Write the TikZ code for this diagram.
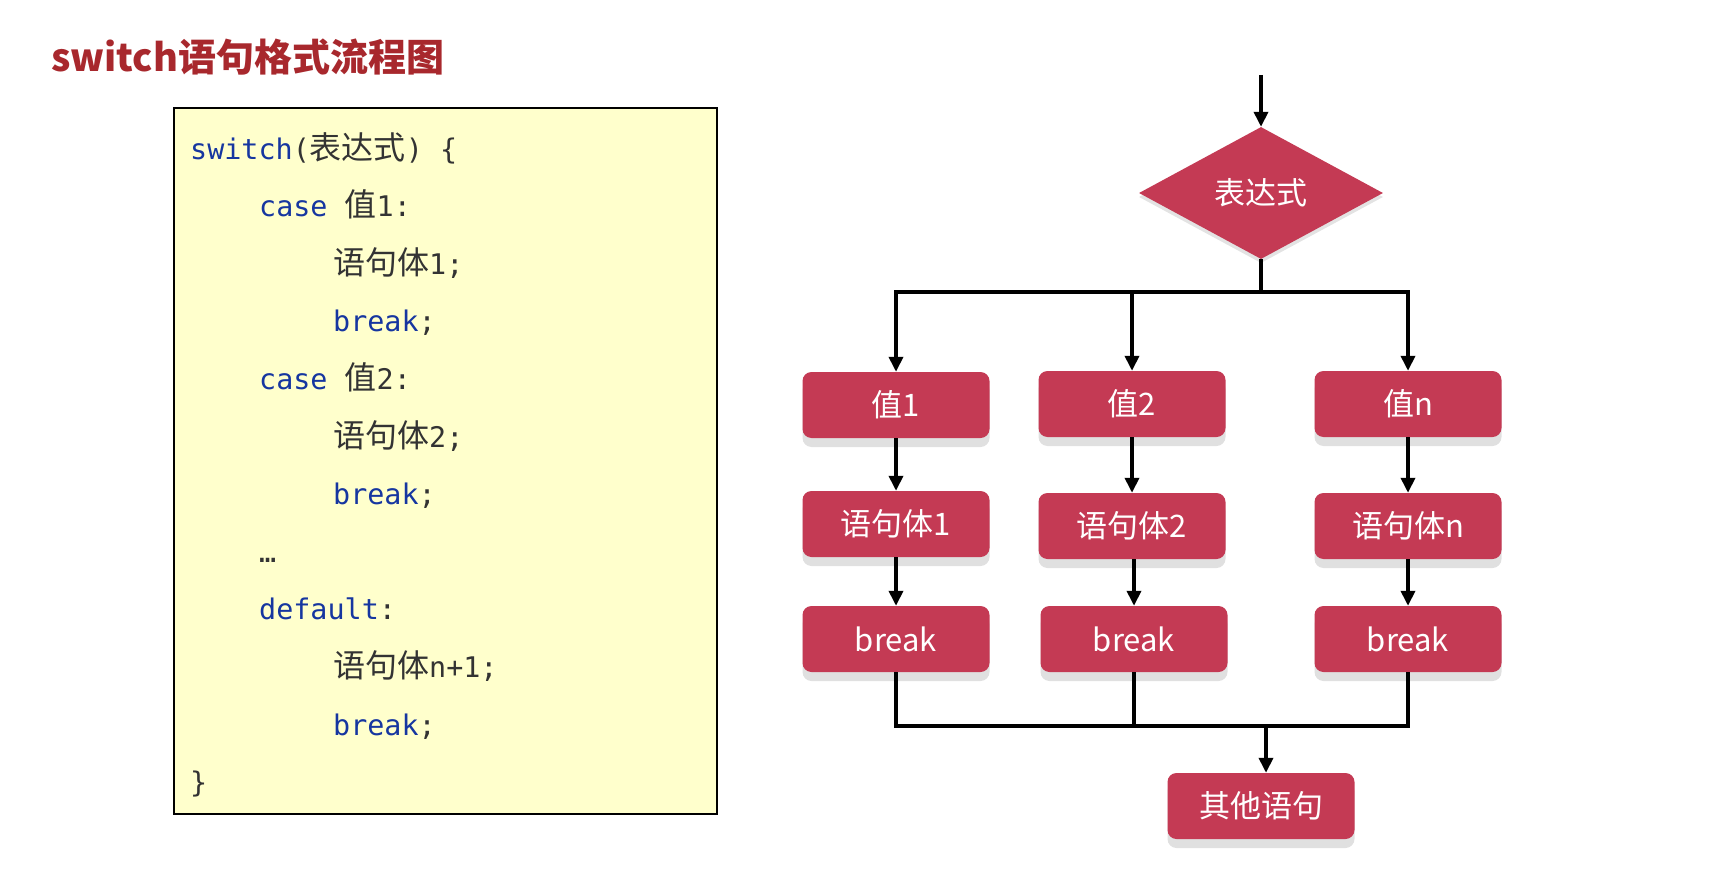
\documentclass[tikz,border=0pt]{standalone}
\usepackage{fontspec}
\setmainfont{Noto Sans CJK SC}
\newfontfamily\cjk{Noto Sans CJK SC}
\newfontfamily\codefont{DejaVu Sans Mono}
\usetikzlibrary{shapes.geometric,shadows,arrows.meta}

\definecolor{boxred}{RGB}{196,58,84}
\definecolor{titlered}{RGB}{168,40,45}
\definecolor{kwblue}{RGB}{22,54,160}
\definecolor{codegray}{RGB}{51,51,51}
\definecolor{codebg}{RGB}{255,255,204}

\newcommand{\kw}[1]{{\color{kwblue}#1}}
\newcommand{\zh}[1]{{\fontsize{32}{34}\cjk #1}}

\tikzset{
    codeline/.style={anchor=base west, inner sep=0pt, text=codegray,
        font=\fontsize{28.4}{34}\codefont},
    flowbox/.style={rectangle, rounded corners=9pt, fill=boxred, text=white,
        minimum width=187pt, minimum height=66pt, inner sep=0pt,
        font=\fontsize{31}{31}\selectfont,
        drop shadow={shadow xshift=0pt, shadow yshift=-9pt, fill=black!12, opacity=1}},
    decision/.style={diamond, fill=boxred, text=white,
        minimum width=244pt, minimum height=132pt, inner sep=0pt,
        font=\fontsize{31}{31}\selectfont,
        drop shadow={shadow xshift=0pt, shadow yshift=-4pt, fill=black!18, opacity=0.6}},
    flowline/.style={line width=3.6pt, -{Triangle[length=15pt,width=14pt]}},
    joinline/.style={line width=3.6pt},
}

\begin{document}
\begin{tikzpicture}[x=1pt, y=-1pt]
    \useasboundingbox (0,0) rectangle (1729,872);

    %Title
    \node[anchor=west, inner sep=0pt, text=titlered, font=\fontsize{38}{38}\selectfont\bfseries] (title) at (51,57) {switch语句格式流程图};

    %Code
    \draw[line width=2.4pt, fill=codebg] (174,108) rectangle (717,814);
    \node[codeline] (l1) at (190,159) {\kw{switch}(\zh{表达式}) \{};
    \node[codeline] (l2) at (259,216.6) {\kw{case} \zh{值}1:};
    \node[codeline] (l3) at (333,274.2) {\zh{语句体}1;};
    \node[codeline] (l4) at (333,331.8) {\kw{break};};
    \node[codeline] (l5) at (259,389.4) {\kw{case} \zh{值}2:};
    \node[codeline] (l6) at (333,447) {\zh{语句体}2;};
    \node[codeline] (l7) at (333,504.6) {\kw{break};};
    \node[codeline] (l8) at (259,562.2) {…};
    \node[codeline] (l9) at (259,619.8) {\kw{default}:};
    \node[codeline] (l10) at (333,677.4) {\zh{语句体}n+1;};
    \node[codeline] (l11) at (333,735) {\kw{break};};
    \node[codeline] (l12) at (190,792.6) {\}};

    %Flow chart
    \node[decision] (expr) at (1261,193) {表达式};

    \node[flowbox] (v1) at (896,405) {值1};
    \node[flowbox] (v2) at (1132,404) {值2};
    \node[flowbox] (vn) at (1408,404) {值n};

    \node[flowbox] (s1) at (896,524) {语句体1};
    \node[flowbox] (s2) at (1132,526) {语句体2};
    \node[flowbox] (sn) at (1408,526) {语句体n};

    \node[flowbox] (b1) at (896,639) {break};
    \node[flowbox] (b2) at (1134,639) {break};
    \node[flowbox] (bn) at (1408,639) {break};

    \node[flowbox] (other) at (1261,806) {其他语句};

    \coordinate (start) at (1261,75);
    \coordinate (split) at (1261,292);
    \coordinate (merge) at (1266,726);

    %Edges
    \draw[flowline] (start) -- (expr.north);
    \draw[joinline] (expr.south) -- (split);
    \draw[flowline] (split) -| (v1.north);
    \draw[flowline] (split) -| (v2.north);
    \draw[flowline] (split) -| (vn.north);

    \draw[flowline] (v1) -- (s1);
    \draw[flowline] (s1) -- (b1);
    \draw[flowline] (v2) -- (s2);
    \draw[flowline] (s2.south -| b2.north) -- (b2.north);
    \draw[flowline] (vn) -- (sn);
    \draw[flowline] (sn) -- (bn);

    \draw[joinline] (b1.south) |- (merge);
    \draw[joinline] (b2.south) |- (merge);
    \draw[joinline] (bn.south) |- (merge);
    \draw[flowline] (merge) -- (merge |- other.north);

\end{tikzpicture}
\end{document}
